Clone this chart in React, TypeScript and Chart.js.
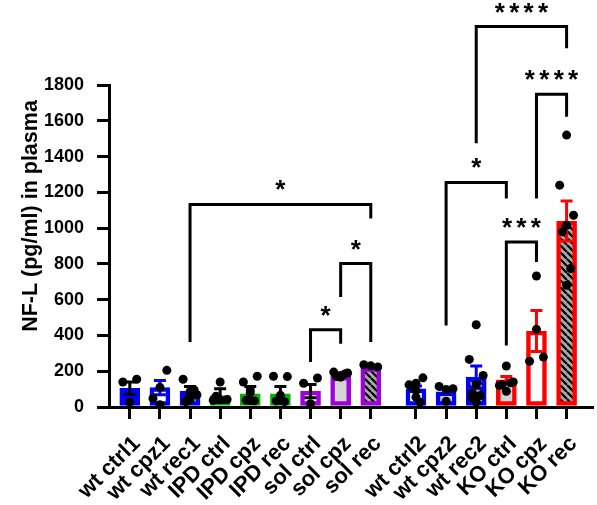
import React, { useEffect, useRef } from "react";
import { Chart, registerables } from "chart.js";
Chart.register(...registerables);

const categories = [
  "wt ctrl1", "wt cpz1", "wt rec1", "IPD ctrl", "IPD cpz", "IPD rec", "sol ctrl", "sol cpz", "sol rec",
  "wt ctrl2", "wt cpz2", "wt rec2", "KO ctrl", "KO cpz", "KO rec",
];
const positions = [0, 1, 2, 3, 4, 5, 6, 7, 8, 9.5, 10.5, 11.5, 12.5, 13.5, 14.5];
const means = [105, 108, 87, 64, 74, 74, 89, 172, 220, 102, 85, 167, 152, 425, 1040];
const sems = [35, 40, 28, 38, 41, 41, 37, 8, 6, 16, 14, 62, 18, 115, 112];
const points = [
  [27, 140, 155],
  [110, 48, 205, 12],
  [85, 155, 68, 40, 30, 95],
  [40, 38, 42, 140, 60],
  [95, 140, 172, 36, 38, 34, 80],
  [65, 172, 170, 36, 34, 30],
  [18, 133, 162],
  [176, 195, 190, 167, 170, 185],
  [230, 236, 224],
  [133, 124, 163, 92, 111, 27, 55],
  [98, 115, 102, 32],
  [460, 266, 176, 124, 76, 64, 27, 50],
  [229, 120, 140, 88, 125, 135],
  [434, 256, 279, 732],
  [1520, 1240, 1072, 1016, 979, 774, 680],
];
const groupColors = ["#0000FF", "#0000FF", "#0000FF", "#00B400", "#00B400", "#00B400", "#A000DC", "#A000DC", "#A000DC",
  "#0000FF", "#0000FF", "#0000FF", "#FF0000", "#FF0000", "#FF0000"];
const fillKinds = ["solid", "white", "hatch", "white", "light", "light", "white", "light", "hatch",
  "white", "light", "hatch", "light", "white", "hatch"];
const errColors = ["#000", "#0000FF", "#000", "#000", "#000", "#000", "#000", "#A000DC", "#A000DC",
  "#0000FF", "#0000FF", "#0000FF", "#FF0000", "#FF0000", "#FF0000"];
const yTicks = [0, 200, 400, 600, 800, 1000, 1200, 1400, 1600, 1800];
const brackets = [
  { from: 2, to: 8, top: 1132, leftEnd: 363, rightEnd: 1054, label: "*" },
  { from: 7, to: 8, top: 802, leftEnd: 615, rightEnd: 363, label: "*" },
  { from: 6, to: 7, top: 432, leftEnd: 251, rightEnd: 354, label: "*" },
  { from: 10, to: 12, top: 1255, leftEnd: 456, rightEnd: 1166, label: "*" },
  { from: 12, to: 13, top: 923, leftEnd: 344, rightEnd: 811, label: "***" },
  { from: 11, to: 14, top: 2127, leftEnd: 1474, rightEnd: 2006, label: "****" },
  { from: 13, to: 14, top: 1748, leftEnd: 1166, rightEnd: 1623, label: "****" },
];
const yTitle = "NF-L (pg/ml) in plasma";

const FONT = "'Liberation Sans', Arial, sans-serif";

function makeHatch(): CanvasPattern | string {
  const c = document.createElement("canvas");
  c.width = 7;
  c.height = 7;
  const g = c.getContext("2d");
  if (!g) return "#999";
  g.fillStyle = "#a6a6a6";
  g.fillRect(0, 0, 7, 7);
  g.strokeStyle = "#000";
  g.lineWidth = 2.2;
  g.beginPath();
  for (let k = -1; k <= 1; k++) {
    g.moveTo(k * 7, 0);
    g.lineTo(k * 7 + 7, 7);
  }
  g.stroke();
  const p = g.createPattern(c, "repeat");
  return p || "#999";
}

const jitterPattern = [0, -0.23, 0.23];

export default function App() {
  const ref = useRef<HTMLCanvasElement | null>(null);
  useEffect(() => {
    const canvas = ref.current;
    if (!canvas) return;
    const hatch = makeHatch();
    const fills = fillKinds.map((k, i) =>
      k === "hatch" ? hatch : k === "light" ? "#d4d4d4" : k === "solid" ? groupColors[i] : "#ffffff"
    );
    const scatterData: { x: number; y: number }[] = [];
    points.forEach((arr, i) => {
      arr.forEach((v, j) => {
        scatterData.push({ x: positions[i] + jitterPattern[j % 3] * (j >= 3 ? 0.6 : 1), y: v });
      });
    });

    const errorBarPlugin = {
      id: "errbars",
      afterDatasetDraw(chart: any, args: any) {
        if (args.index !== 0) return;
        const { ctx } = chart;
        const x = chart.scales.x;
        const y = chart.scales.y;
        ctx.save();
        ctx.lineWidth = 3;
        means.forEach((m, i) => {
          const px = x.getPixelForValue(positions[i]);
          const top = y.getPixelForValue(m + sems[i]);
          const bot = y.getPixelForValue(Math.max(0, m - sems[i]));
          ctx.strokeStyle = errColors[i];
          ctx.beginPath();
          ctx.moveTo(px, top);
          ctx.lineTo(px, bot);
          ctx.moveTo(px - 6, top);
          ctx.lineTo(px + 6, top);
          ctx.moveTo(px - 6, bot);
          ctx.lineTo(px + 6, bot);
          ctx.stroke();
        });
        ctx.restore();
      },
    };

    const annotPlugin = {
      id: "annot",
      afterDraw(chart: any) {
        const { ctx } = chart;
        const x = chart.scales.x;
        const y = chart.scales.y;
        ctx.save();
        ctx.strokeStyle = "#000";
        ctx.lineWidth = 3;
        ctx.lineJoin = "miter";
        ctx.lineCap = "butt";
        brackets.forEach((b) => {
          const x1 = x.getPixelForValue(positions[b.from]);
          const x2 = x.getPixelForValue(positions[b.to]);
          const yt = y.getPixelForValue(b.top);
          ctx.beginPath();
          ctx.moveTo(x1, y.getPixelForValue(b.leftEnd));
          ctx.lineTo(x1, yt);
          ctx.lineTo(x2, yt);
          ctx.lineTo(x2, y.getPixelForValue(b.rightEnd));
          ctx.stroke();
          ctx.fillStyle = "#000";
          ctx.font = `bold 26px ${FONT}`;
          ctx.textAlign = "center";
          ctx.textBaseline = "alphabetic";
          const n = b.label.length;
          const mid = (x1 + x2) / 2;
          for (let k = 0; k < n; k++) {
            const cx = mid + (k - (n - 1) / 2) * 14.4;
            ctx.fillText(b.label[k], cx, yt - 6);
          }
        });
        // y-axis title
        ctx.translate(31, 216);
        ctx.rotate(-Math.PI / 2);
        ctx.font = `bold 21.5px ${FONT}`;
        ctx.textAlign = "center";
        ctx.textBaseline = "middle";
        ctx.fillText(yTitle, 0, 0);
        ctx.restore();
      },
    };

    const chart = new Chart(canvas, {
      type: "bar",
      data: {
        datasets: [
          {
            type: "bar",
            data: positions.map((p, i) => ({ x: p, y: means[i] })) as any,
            backgroundColor: fills as any,
            borderColor: groupColors,
            borderWidth: 4.5,
            borderSkipped: false,
            barThickness: 20,
            order: 2,
          } as any,
          {
            type: "scatter",
            data: scatterData as any,
            pointRadius: 4.5,
            pointBackgroundColor: "#000",
            pointBorderWidth: 0,
            order: 1,
            clip: false,
          } as any,
        ],
      },
      options: {
        animation: false,
        responsive: false,
        events: [],
        layout: { padding: { top: 85, left: 0, right: 0, bottom: 0 } },
        plugins: { legend: { display: false }, tooltip: { enabled: false }, title: { display: false } },
        scales: {
          x: {
            type: "linear",
            offset: false,
            min: -0.69,
            max: 15.36,
            afterBuildTicks(scale: any) {
              scale.ticks = positions.map((v) => ({ value: v }));
            },
            afterFit(scale: any) {
              scale.height = 98;
              scale.paddingLeft = 0;
              scale.paddingRight = 0;
            },
            ticks: {
              autoSkip: false,
              minRotation: 45,
              maxRotation: 45,
              padding: 12,
              labelOffset: 7,
              color: "#000",
              font: { family: FONT, size: 22, weight: "bold" },
              callback: (_v: any, index: number) => categories[index],
            },
            grid: { offset: false, drawOnChartArea: false, drawTicks: true, tickLength: 12, lineWidth: 3, color: "#000" },
            border: { display: true, width: 3, color: "#000" },
          } as any,
          y: {
            min: 0,
            max: 1800,
            afterBuildTicks(scale: any) {
              scale.ticks = yTicks.map((v) => ({ value: v }));
            },
            afterFit(scale: any) {
              scale.width = 109;
              scale.paddingTop = 0;
              scale.paddingBottom = 0;
            },
            ticks: {
              padding: 13,
              color: "#000",
              font: { family: FONT, size: 18, weight: "bold" },
              callback: (v: any) => String(v),
            },
            grid: { drawOnChartArea: false, drawTicks: true, tickLength: 12, lineWidth: 3, color: "#000" },
            border: { display: true, width: 3, color: "#000" },
          } as any,
        },
      },
      plugins: [errorBarPlugin, annotPlugin],
    } as any);
    return () => chart.destroy();
  }, []);

  return (
    <div style={{ position: "fixed", left: 0, top: 0, width: 597, height: 505, background: "#fff" }}>
      <canvas ref={ref} width={597} height={505} style={{ display: "block" }} />
    </div>
  );
}
